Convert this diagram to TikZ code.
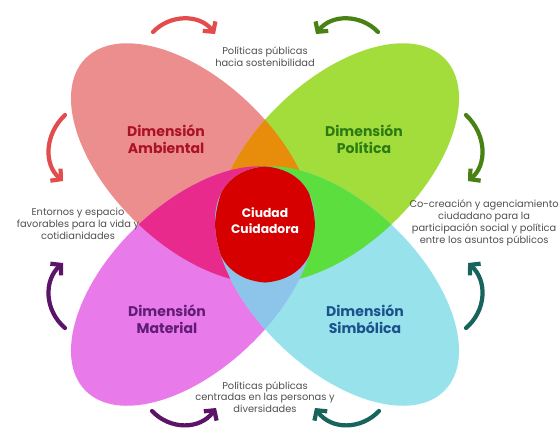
\documentclass[tikz,border=0pt]{standalone}
\usepackage{fontspec}
\setmainfont{Poppins}
\usetikzlibrary{arrows.meta}
\definecolor{rosa}{RGB}{236,142,142}
\definecolor{verdeclaro}{RGB}{163,221,60}
\definecolor{fucsia}{RGB}{233,122,233}
\definecolor{celeste}{RGB}{152,226,236}
\definecolor{naranja}{RGB}{232,140,12}
\definecolor{rosafuerte}{RGB}{232,42,140}
\definecolor{verdefuerte}{RGB}{92,222,62}
\definecolor{azulclaro}{RGB}{140,196,234}
\definecolor{rojo}{RGB}{214,0,0}
\definecolor{textoamb}{RGB}{170,18,40}
\definecolor{textopol}{RGB}{44,122,18}
\definecolor{textomat}{RGB}{96,28,118}
\definecolor{textosim}{RGB}{28,82,140}
\definecolor{gris}{RGB}{80,80,80}
\definecolor{flecharoja}{RGB}{226,76,76}
\definecolor{flechaverde}{RGB}{72,130,20}
\definecolor{flechamorada}{RGB}{92,20,104}
\definecolor{flechaturquesa}{RGB}{22,100,92}
\newcommand{\elAmb}{(193,163) ellipse [x radius=150, y radius=82]}
\newcommand{\elPol}{(337,163) ellipse [x radius=150, y radius=82]}
\newcommand{\elMat}{(193,286) ellipse [x radius=150, y radius=82]}
\newcommand{\elSim}{(337,286) ellipse [x radius=150, y radius=82]}

\begin{document}
\begin{tikzpicture}[x=0.02cm, y=-0.02cm,
    rotamb/.style={rotate around={-44:(193,163)}},
    rotpol/.style={rotate around={44:(337,163)}},
    rotmat/.style={rotate around={44:(193,286)}},
    rotsim/.style={rotate around={-44:(337,286)}},
    dimension/.style={font=\fontsize{8}{10}\selectfont\bfseries, align=center},
    nota/.style={gris, font=\fontsize{5.6}{6.7}\selectfont, align=center},
    flecha/.style={line width=2.4pt, line cap=round, -{Straight Barb[length=4pt, width=9pt]}}]

    \useasboundingbox (0,0) rectangle (560,427);

    % elipses
    \fill[rosa, rotamb] \elAmb;
    \fill[verdeclaro, rotpol] \elPol;
    \fill[fucsia, rotmat] \elMat;
    \fill[celeste, rotsim] \elSim;

    % superposiciones
    \begin{scope}
        \clip[rotamb] \elAmb;
        \fill[naranja, rotpol] \elPol;
        \fill[rosafuerte, rotmat] \elMat;
    \end{scope}
    \begin{scope}
        \clip[rotsim] \elSim;
        \fill[verdefuerte, rotpol] \elPol;
        \fill[azulclaro, rotmat] \elMat;
    \end{scope}
    \begin{scope}
        \clip[rotamb] \elAmb;
        \clip[rotpol] \elPol;
        \clip[rotmat] \elMat;
        \fill[rojo, rotsim] \elSim;
    \end{scope}

    \node[dimension, textoamb] (ambiental) at (166,139) {Dimensión\\Ambiental};
    \node[dimension, textopol] (politica) at (364,139) {Dimensión\\Política};
    \node[dimension, textomat] (material) at (167,319) {Dimensión\\Material};
    \node[dimension, textosim] (simbolica) at (365,319) {Dimensión\\Simbólica};
    \node[dimension, white, font=\fontsize{7}{9}\selectfont\bfseries] (ciudad) at (265,221) {Ciudad\\Cuidadora};

    \node[nota] (sostenibilidad) at (265,57) {Políticas públicas\\hacia sostenibilidad};
    \node[nota, inner xsep=0pt] (entornos) at (78,224) {Entornos y espacio\\favorables para la vida y\\cotidianidades};
    \node[nota, inner xsep=0pt, anchor=east] (cocreacion) at (559,223) {Co-creación y agenciamiento\\ciudadano para la\\participación social y política\\entre los asuntos públicos};
    \node[nota] (personas) at (265,397) {Políticas públicas\\centradas en las personas y\\diversidades};

    % flechas
    \draw[flecha, flecharoja] (153,32) .. controls (170,14) and (200,14) .. (215,34);
    \draw[flecha, flechaverde] (378,32) .. controls (361,14) and (331,14) .. (316,34);
    \draw[flecha, flecharoja] (65,115) .. controls (44,135) and (44,165) .. (63,181);
    \draw[flecha, flechaverde] (466,115) .. controls (487,135) and (487,165) .. (468,181);
    \draw[flecha, flechamorada] (65,328) .. controls (44,310) and (44,280) .. (63,263);
    \draw[flecha, flechaturquesa] (466,328) .. controls (487,310) and (487,280) .. (468,263);
    \draw[flecha, flechamorada] (152,411) .. controls (170,430) and (200,430) .. (216,408);
    \draw[flecha, flechaturquesa] (379,411) .. controls (361,430) and (331,430) .. (315,408);

\end{tikzpicture}
\end{document}
